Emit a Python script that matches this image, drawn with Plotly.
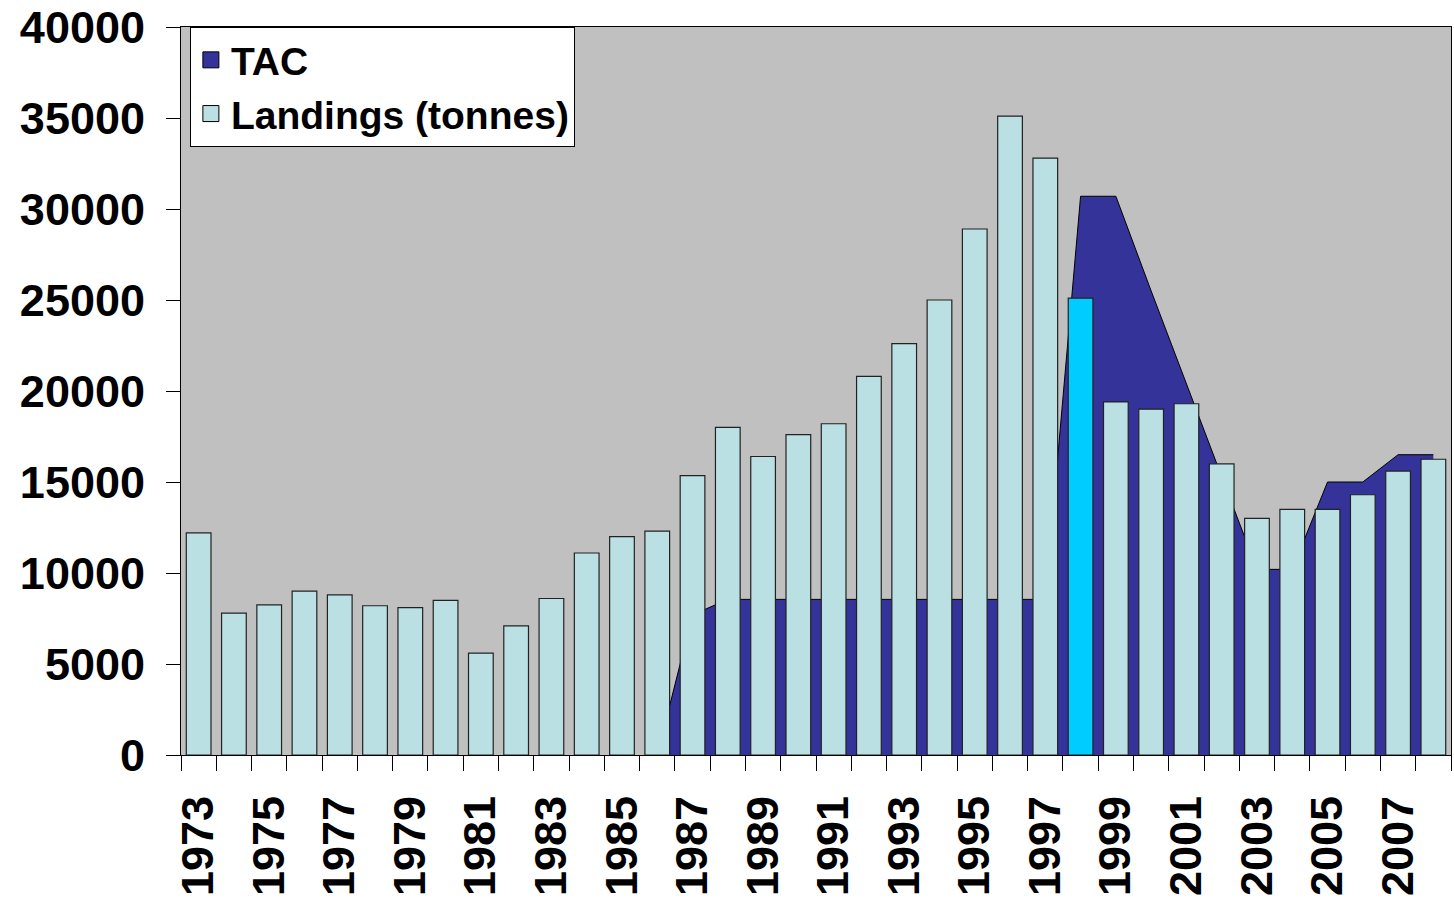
import plotly.graph_objects as go

years = list(range(1973, 2009))
landings = [12200, 7800, 8250, 9000, 8800, 8200, 8100, 8500, 5600, 7100,
            8600, 11100, 12000, 12300, 15350, 18000, 16400, 17600, 18200, 20800,
            22600, 25000, 28900, 35100, 32800, 25100, 19400, 19000, 19300, 16000,
            13000, 13500, 13500, 14300, 15600, 16250]
tac_years = list(range(1986, 2009))
tac = [0, 7700, 8550, 8550, 8550, 8550, 8550, 8550, 8550, 8550,
       8550, 8550, 30700, 30700, 25500, 20400, 15250, 10200, 10200, 15000,
       15000, 16500, 16500]
label_years = list(range(1973, 2008, 2))
y_ticks = list(range(0, 40001, 5000))

BAR = "#BAE0E3"
HIGHLIGHT = "#00CCFF"
TAC_COL = "#333399"
FONT = "Liberation Sans, Arial, sans-serif"

bar_colors = [HIGHLIGHT if y == 1998 else BAR for y in years]

fig = go.Figure()
# TAC area on base axes (drawn behind bars)
fig.add_trace(go.Scatter(
    x=tac_years, y=tac, mode="lines", fill="tozeroy",
    fillcolor=TAC_COL, line=dict(color="black", width=1),
    xaxis="x", yaxis="y", showlegend=False, hoverinfo="skip"))
# Landings bars on overlaying axes (drawn on top)
fig.add_trace(go.Bar(
    x=years, y=landings, marker=dict(color=bar_colors, line=dict(color="#222222", width=1.2)),
    xaxis="x2", yaxis="y2", showlegend=False))
# legend entries
fig.add_trace(go.Scatter(
    x=[None], y=[None], mode="markers", name="TAC",
    marker=dict(symbol="square", size=22, color=TAC_COL, line=dict(color="black", width=1))))
fig.add_trace(go.Scatter(
    x=[None], y=[None], mode="markers", name="Landings (tonnes)",
    marker=dict(symbol="square", size=22, color=BAR, line=dict(color="black", width=1))))

xr = [1972.5, 2008.5]
fig.update_layout(
    width=1454, height=898, autosize=False,
    margin=dict(l=181, r=2, t=27, b=139),
    paper_bgcolor="white", plot_bgcolor="#C0C0C0",
    bargap=0.30,
    font=dict(family=FONT, color="black"),
    showlegend=True,
    legend=dict(x=0.007, y=1.0, xanchor="left", yanchor="top",
                bgcolor="white", bordercolor="black", borderwidth=1,
                font=dict(family=FONT, size=39, color="black", weight="bold"),
                itemsizing="trace", tracegroupgap=0),
    xaxis=dict(range=xr, tickmode="array", tickvals=label_years,
               ticktext=[str(y) for y in label_years], tickangle=-90,
               ticks="", ticklabelstandoff=22,
               tickfont=dict(family=FONT, size=45, color="black", weight="bold"),
               showgrid=False, zeroline=False, showline=True, linecolor="black",
               linewidth=1, mirror=True),
    yaxis=dict(range=[0, 40000], tickmode="array", tickvals=y_ticks,
               ticktext=[str(v) for v in y_ticks],
               ticks="outside", ticklen=14, tickcolor="black", ticklabelstandoff=12,
               tickfont=dict(family=FONT, size=45, color="black", weight="bold"),
               showgrid=False, zeroline=False, showline=True, linecolor="black",
               linewidth=1, mirror=True),
    xaxis2=dict(range=xr, overlaying="x", anchor="y2", matches="x",
                tickmode="array", tickvals=[y + 0.5 for y in range(1972, 2009)],
                ticks="outside", ticklen=15, tickcolor="black", showticklabels=False,
                showgrid=False, zeroline=False, showline=False),
    yaxis2=dict(range=[0, 40000], overlaying="y", anchor="x2", matches="y",
                showticklabels=False, ticks="", showgrid=False, zeroline=False,
                showline=False),
)

post = """
document.body.style.margin = '0px';
document.body.style.padding = '0px';
document.body.style.overflow = 'hidden';
var gd = document.getElementById('{plot_id}');
gd.style.width = '1454px';
gd.style.height = '898px';
Plotly.relayout(gd, {width: 1454, height: 898, autosize: false});
"""

fig.write_html("out.html", post_script=post,
               config={"responsive": False, "displayModeBar": False})
